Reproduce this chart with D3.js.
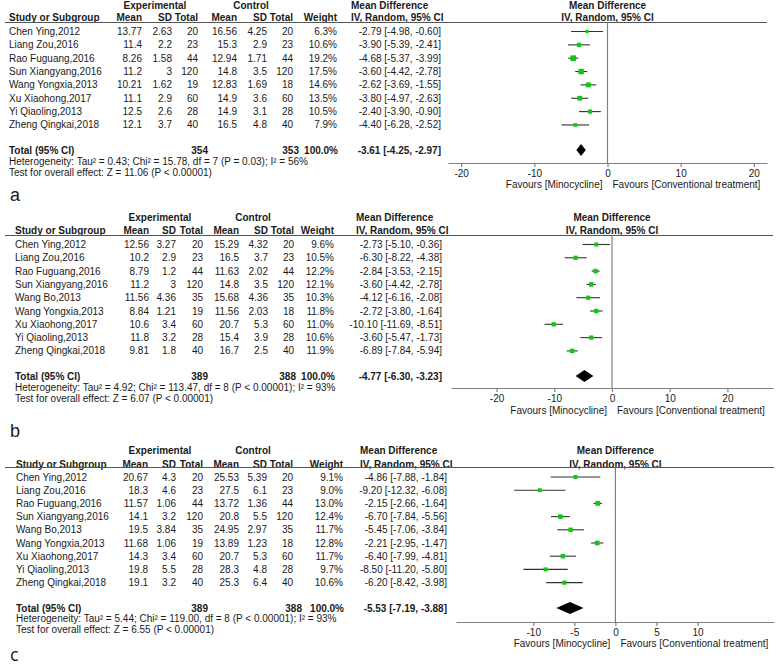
<!DOCTYPE html>
<html lang="en">
<head>
  <meta charset="UTF-8">
  <title>Forest plots</title>
  <script src="https://d3js.org/d3.v7.min.js"></script>
  <style>
    body { margin: 0; background: #fff; font-family: Arial, "Liberation Sans", sans-serif; }
    svg text { fill: #1a1a1a; font-size: 10px; }
    .axis path, .axis line { stroke: #808080; stroke-width: 1.2; }
    .axis text { font-size: 10px; }
    .lbl { font-size: 18px; }
  </style>
</head>
<body>
  <svg id="chart" width="777" height="669"></svg>
  <script>
    // rows: study, exp mean, exp SD, exp total, ctl mean, ctl SD, ctl total, weight %, MD, lower, upper
    const rowsA = [
      ["Chen Ying,2012", 13.77, 2.63, 20, 16.56, 4.25, 20, 6.3, -2.79, -4.98, -0.60],
      ["Liang Zou,2016", 11.4, 2.2, 23, 15.3, 2.9, 23, 10.6, -3.90, -5.39, -2.41],
      ["Rao Fuguang,2016", 8.26, 1.58, 44, 12.94, 1.71, 44, 19.2, -4.68, -5.37, -3.99],
      ["Sun Xiangyang,2016", 11.2, 3, 120, 14.8, 3.5, 120, 17.5, -3.60, -4.42, -2.78],
      ["Wang Yongxia,2013", 10.21, 1.62, 19, 12.83, 1.69, 18, 14.6, -2.62, -3.69, -1.55],
      ["Xu Xiaohong,2017", 11.1, 2.9, 60, 14.9, 3.6, 60, 13.5, -3.80, -4.97, -2.63],
      ["Yi Qiaoling,2013", 12.5, 2.6, 28, 14.9, 3.1, 28, 10.5, -2.40, -3.90, -0.90],
      ["Zheng Qingkai,2018", 12.1, 3.7, 40, 16.5, 4.8, 40, 7.9, -4.40, -6.28, -2.52]
    ];
    const totalA = [354, 353, 100.0, -3.61, -4.25, -2.97];
    const hetA = "Heterogeneity: Tau² = 0.43; Chi² = 15.78, df = 7 (P = 0.03); I² = 56%";
    const testA = "Test for overall effect: Z = 11.06 (P < 0.00001)";
    const ticksA = [-20, -10, 0, 10, 20];
    const domainA = [-21.8, 21.8];

    const rowsB = [
      ["Chen Ying,2012", 12.56, 3.27, 20, 15.29, 4.32, 20, 9.6, -2.73, -5.10, -0.36],
      ["Liang Zou,2016", 10.2, 2.9, 23, 16.5, 3.7, 23, 10.5, -6.30, -8.22, -4.38],
      ["Rao Fuguang,2016", 8.79, 1.2, 44, 11.63, 2.02, 44, 12.2, -2.84, -3.53, -2.15],
      ["Sun Xiangyang,2016", 11.2, 3, 120, 14.8, 3.5, 120, 12.1, -3.60, -4.42, -2.78],
      ["Wang Bo,2013", 11.56, 4.36, 35, 15.68, 4.36, 35, 10.3, -4.12, -6.16, -2.08],
      ["Wang Yongxia,2013", 8.84, 1.21, 19, 11.56, 2.03, 18, 11.8, -2.72, -3.80, -1.64],
      ["Xu Xiaohong,2017", 10.6, 3.4, 60, 20.7, 5.3, 60, 11.0, -10.10, -11.69, -8.51],
      ["Yi Qiaoling,2013", 11.8, 3.2, 28, 15.4, 3.9, 28, 10.6, -3.60, -5.47, -1.73],
      ["Zheng Qingkai,2018", 9.81, 1.8, 40, 16.7, 2.5, 40, 11.9, -6.89, -7.84, -5.94]
    ];
    const totalB = [389, 388, 100.0, -4.77, -6.30, -3.23];
    const hetB = "Heterogeneity: Tau² = 4.92; Chi² = 113.47, df = 8 (P < 0.00001); I² = 93%";
    const testB = "Test for overall effect: Z = 6.07 (P < 0.00001)";
    const ticksB = [-20, -10, 0, 10, 20];
    const domainB = [-27.9, 27.9];

    const rowsC = [
      ["Chen Ying,2012", 20.67, 4.3, 20, 25.53, 5.39, 20, 9.1, -4.86, -7.88, -1.84],
      ["Liang Zou,2016", 18.3, 4.6, 23, 27.5, 6.1, 23, 9.0, -9.20, -12.32, -6.08],
      ["Rao Fuguang,2016", 11.57, 1.06, 44, 13.72, 1.36, 44, 13.0, -2.15, -2.66, -1.64],
      ["Sun Xiangyang,2016", 14.1, 3.2, 120, 20.8, 5.5, 120, 12.4, -6.70, -7.84, -5.56],
      ["Wang Bo,2013", 19.5, 3.84, 35, 24.95, 2.97, 35, 11.7, -5.45, -7.06, -3.84],
      ["Wang Yongxia,2013", 11.68, 1.06, 19, 13.89, 1.23, 18, 12.8, -2.21, -2.95, -1.47],
      ["Xu Xiaohong,2017", 14.3, 3.4, 60, 20.7, 5.3, 60, 11.7, -6.40, -7.99, -4.81],
      ["Yi Qiaoling,2013", 19.8, 5.5, 28, 28.3, 4.8, 28, 9.7, -8.50, -11.20, -5.80],
      ["Zheng Qingkai,2018", 19.1, 3.2, 40, 25.3, 6.4, 40, 10.6, -6.20, -8.42, -3.98]
    ];
    const totalC = [389, 388, 100.0, -5.53, -7.19, -3.88];
    const hetC = "Heterogeneity: Tau² = 5.44; Chi² = 119.00, df = 8 (P < 0.00001); I² = 93%";
    const testC = "Test for overall effect: Z = 6.55 (P < 0.00001)";
    const ticksC = [-10, -5, 0, 5, 10];
    const domainC = [-19.4, 19.3];

    // layout of each panel (y = text centres)
    const panels = [
      { label: "a", rows: rowsA, total: totalA, het: hetA, test: testA, ticks: ticksA, domain: domainA,
        h1: 5.5, h2: 17.5, line: 22.5, row0: 31.5, step: 13.35, totY: 150, hetY: 161, testY: 172, axisY: 163, favY: 184, lblY: 195,
        xName: 9, xM: 142, xSD: 172, xN: 198, xCM: 237, xCSD: 267, xCN: 293, xW: 337, xMD: 441, xMDh: 351,
        xExpH: 155, xCtlH: 251, xTN: 208, xTCN: 299, range: [448, 767], lblFont: null },
      { label: "b", rows: rowsB, total: totalB, het: hetB, test: testB, ticks: ticksB, domain: domainB,
        h1: 217, h2: 230.5, line: 235.5, row0: 244.5, step: 13.3, totY: 376, hetY: 387.5, testY: 398, axisY: 388, favY: 410, lblY: 431,
        xName: 15, xM: 149, xSD: 176, xN: 203, xCM: 239, xCSD: 268, xCN: 294, xW: 334, xMD: 442, xMDh: 356,
        xExpH: 160, xCtlH: 253, xTN: 208, xTCN: 296, range: [451, 773], lblFont: null },
      { label: "c", rows: rowsC, total: totalC, het: hetC, test: testC, ticks: ticksC, domain: domainC,
        h1: 450, h2: 464, line: 467.5, row0: 477, step: 13.2, totY: 608, hetY: 618.5, testY: 629, axisY: 622, favY: 643, lblY: 655,
        xName: 16, xM: 148, xSD: 176, xN: 203, xCM: 239, xCSD: 267, xCN: 293, xW: 343, xMD: 447, xMDh: 360,
        xExpH: 160, xCtlH: 253, xTN: 208, xTCN: 302, range: [456, 774], lblFont: "'Open Sans', sans-serif" }
    ];

    const svg = d3.select("#chart");
    const f2 = v => v.toFixed(2);
    const ci = (m, l, h) => `${f2(m)} [${f2(l)}, ${f2(h)}]`;

    function txt(g, x, y, s, anchor, bold) {
      return g.append("text")
        .attr("x", x).attr("y", y).attr("dy", "0.35em")
        .attr("text-anchor", anchor || "start")
        .style("font-weight", bold ? "bold" : null)
        .text(s);
    }

    panels.forEach(p => {
      const g = svg.append("g");
      const x = d3.scaleLinear().domain(p.domain).range(p.range);
      const y = i => p.row0 + i * p.step;

      // headers
      txt(g, p.xExpH, p.h1, "Experimental", "middle", true);
      txt(g, p.xCtlH, p.h1, "Control", "middle", true);
      txt(g, p.xMDh, p.h1, "Mean Difference", "start", true);
      txt(g, x(0), p.h1, "Mean Difference", "middle", true);
      txt(g, p.xName, p.h2, "Study or Subgroup", "start", true);
      [["Mean", p.xM], ["SD", p.xSD], ["Total", p.xN], ["Mean", p.xCM], ["SD", p.xCSD], ["Total", p.xCN], ["Weight", p.xW]]
        .forEach(([s, xx]) => txt(g, xx, p.h2, s, "end", true));
      txt(g, p.xMDh, p.h2, "IV, Random, 95% CI", "start", true);
      txt(g, x(0), p.h2, "IV, Random, 95% CI", "middle", true);

      g.append("line")
        .attr("x1", 5).attr("x2", p.range[1])
        .attr("y1", p.line).attr("y2", p.line)
        .attr("stroke", "#555").attr("stroke-width", 1);

      // study rows
      p.rows.forEach((r, i) => {
        txt(g, p.xName, y(i), r[0]);
        txt(g, p.xM, y(i), String(r[1]), "end");
        txt(g, p.xSD, y(i), String(r[2]), "end");
        txt(g, p.xN, y(i), String(r[3]), "end");
        txt(g, p.xCM, y(i), String(r[4]), "end");
        txt(g, p.xCSD, y(i), String(r[5]), "end");
        txt(g, p.xCN, y(i), String(r[6]), "end");
        txt(g, p.xW, y(i), r[7].toFixed(1) + "%", "end");
        txt(g, p.xMD, y(i), ci(r[8], r[9], r[10]), "end");
      });

      // total row and footnotes
      const t = p.total;
      txt(g, p.xName, p.totY, "Total (95% CI)", "start", true);
      txt(g, p.xTN, p.totY, String(t[0]), "end", true);
      txt(g, p.xTCN, p.totY, String(t[1]), "end", true);
      txt(g, p.xW + 1, p.totY, t[2].toFixed(1) + "%", "end", true);
      txt(g, p.xMD, p.totY, ci(t[3], t[4], t[5]), "end", true);
      txt(g, p.xName, p.hetY, p.het);
      txt(g, p.xName, p.testY, p.test);

      // forest: zero line, CIs, squares, diamond
      g.append("line")
        .attr("x1", x(0)).attr("x2", x(0))
        .attr("y1", p.line).attr("y2", p.axisY)
        .attr("stroke", "#808080").attr("stroke-width", 1.2);

      g.selectAll(".ci").data(p.rows).enter().append("line")
        .attr("x1", d => x(d[9])).attr("x2", d => x(d[10]))
        .attr("y1", (d, i) => y(i)).attr("y2", (d, i) => y(i))
        .attr("stroke", "#333").attr("stroke-width", 1.1);

      const half = d => 0.65 * Math.sqrt(d[7]);
      g.selectAll(".sq").data(p.rows).enter().append("rect")
        .attr("x", d => x(d[8]) - half(d))
        .attr("y", (d, i) => y(i) - half(d))
        .attr("width", d => 2 * half(d))
        .attr("height", d => 2 * half(d))
        .attr("fill", "#10c810");

      const dh = 6;
      g.append("path")
        .attr("d", `M${x(t[4])},${p.totY} L${x(t[3])},${p.totY - dh} L${x(t[5])},${p.totY} L${x(t[3])},${p.totY + dh} Z`)
        .attr("fill", "#000");

      // axis
      g.append("g")
        .attr("class", "axis")
        .attr("transform", `translate(0,${p.axisY})`)
        .call(d3.axisBottom(x).tickValues(p.ticks).tickSize(4).tickSizeOuter(0).tickFormat(d => String(d)));

      txt(g, x(0) - 5, p.favY, "Favours [Minocycline]", "end");
      txt(g, x(0) + 5, p.favY, "Favours [Conventional treatment]", "start");

      txt(g, 10, p.lblY, p.label).attr("class", "lbl").style("font-family", p.lblFont);
    });
  </script>
</body>
</html>
